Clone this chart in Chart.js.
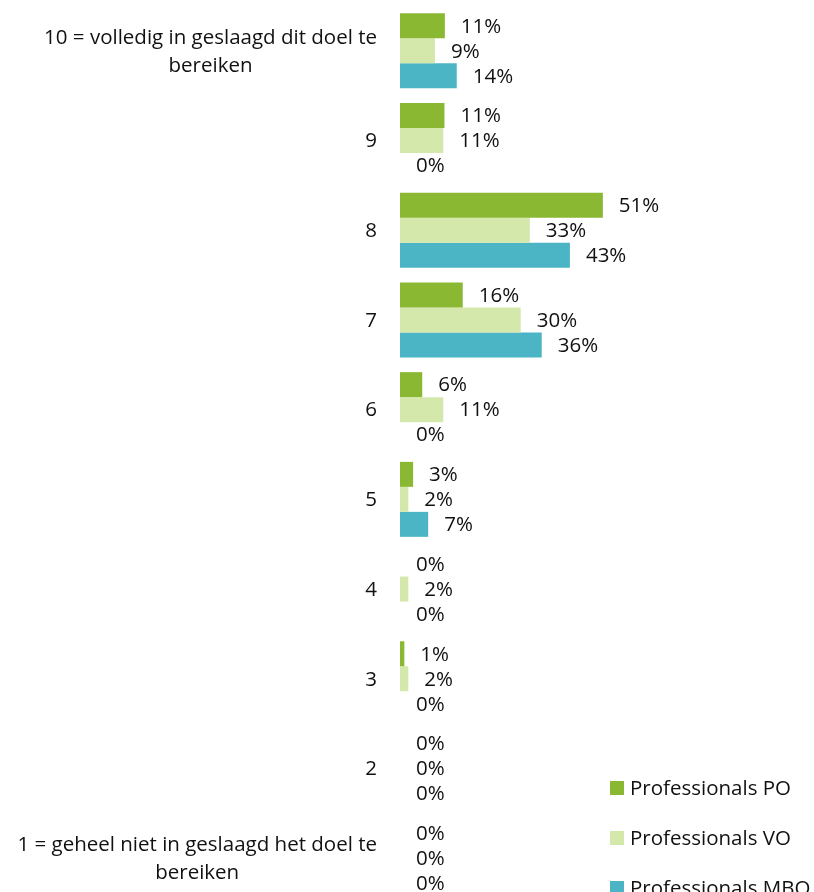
<!DOCTYPE html>
<html>
<head>
<meta charset="utf-8">
<script src="https://cdn.jsdelivr.net/npm/chart.js@4/dist/chart.umd.min.js"></script>
<style>
  html, body { margin: 0; padding: 0; background: #fff; overflow: hidden; }
  #wrap { width: 814px; height: 906px; }
</style>
</head>
<body>
<div id="wrap"><canvas id="chartContainer" width="814" height="906"></canvas></div>
<script>
// categories, top to bottom
const categories = [
  ["10 = volledig in geslaagd dit doel te", "bereiken"],
  ["9"], ["8"], ["7"], ["6"], ["5"], ["4"], ["3"], ["2"],
  ["1 = geheel niet in geslaagd het doel te", "bereiken"]
];

const seriesNames = ["Professionals PO", "Professionals VO", "Professionals MBO"];

// percentages
const valuesPO  = [11.3, 11.2, 51.1, 15.8, 5.6, 3.3, 0, 1.1, 0, 0];
const valuesVO  = [8.8, 10.9, 32.7, 30.4, 10.9, 2.1, 2.1, 2.1, 0, 0];
const valuesMBO = [14.3, 0, 42.8, 35.7, 0, 7.1, 0, 0, 0, 0];

const colors = ["#8bb832", "#d5e8ab", "#4bb5c5"];

const FONT = "20.5px 'Open Sans', sans-serif";
const TEXT = "#111";

// value labels at the end of each bar
const barLabels = {
  id: "barLabels",
  afterDatasetsDraw(chart) {
    const ctx = chart.ctx;
    ctx.save();
    ctx.font = FONT;
    ctx.fillStyle = TEXT;
    ctx.textAlign = "left";
    ctx.textBaseline = "middle";
    chart.data.datasets.forEach((ds, i) => {
      chart.getDatasetMeta(i).data.forEach((bar, j) => {
        ctx.fillText(Math.round(ds.data[j]) + "%", bar.x + 16, bar.y + 1);
      });
    });
    ctx.restore();
  }
};

// category labels: right aligned block, lines centred inside it
const catLabels = {
  id: "catLabels",
  afterDraw(chart) {
    const ctx = chart.ctx;
    const y = chart.scales.y;
    const right = chart.chartArea.left - 23;
    const lh = 28;
    ctx.save();
    ctx.font = FONT;
    ctx.fillStyle = TEXT;
    ctx.textBaseline = "middle";
    ctx.textAlign = "center";
    chart.data.labels.forEach((lines, i) => {
      const c = y.getPixelForValue(i);
      const w = Math.max(...lines.map(l => ctx.measureText(l).width));
      const mid = right - w / 2;
      lines.forEach((l, k) => {
        ctx.fillText(l, mid, c + (k - (lines.length - 1) / 2) * lh + 1);
      });
    });
    ctx.restore();
  }
};

// legend stacked at the lower right
const sideLegend = {
  id: "sideLegend",
  afterDraw(chart) {
    const ctx = chart.ctx;
    ctx.save();
    ctx.font = FONT;
    ctx.textBaseline = "middle";
    ctx.textAlign = "left";
    chart.data.datasets.forEach((ds, i) => {
      const cy = 788 + i * 50;
      ctx.fillStyle = ds.backgroundColor;
      ctx.fillRect(610, cy - 7, 14, 14);
      ctx.fillStyle = TEXT;
      ctx.fillText(ds.label, 630, cy + 1);
    });
    ctx.restore();
  }
};

const datasets = [valuesPO, valuesVO, valuesMBO].map((vals, i) => ({
  label: seriesNames[i],
  data: vals,
  backgroundColor: colors[i],
  borderWidth: 0,
  categoryPercentage: 0.836,
  barPercentage: 1.0
}));

new Chart(document.getElementById("chartContainer"), {
  type: "bar",
  data: { labels: categories, datasets: datasets },
  options: {
    indexAxis: "y",
    responsive: false,
    animation: false,
    layout: { padding: { left: 400, right: 17, top: 6, bottom: 3 } },
    scales: {
      x: { display: false, min: 0, max: 100 },
      y: { display: false }
    },
    plugins: {
      legend: { display: false },
      tooltip: { enabled: false }
    }
  },
  plugins: [barLabels, catLabels, sideLegend]
});
</script>
</body>
</html>
